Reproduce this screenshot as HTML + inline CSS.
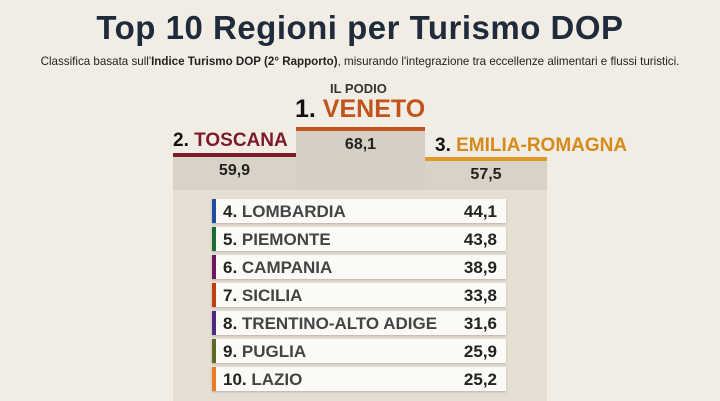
<!DOCTYPE html>
<html><head><meta charset="utf-8"><style>
body{margin:0;width:720px;height:401px;background:#f1ede4;font-family:"Liberation Sans",sans-serif;position:relative;overflow:hidden}
.a{position:absolute}
.t{left:0;width:720px;text-align:center;top:9px;font-size:33px;font-weight:bold;color:#1f2a3a;letter-spacing:0.5px}
.s{left:0;width:720px;text-align:center;top:55px;font-size:11.6px;color:#222}
.lab{font-weight:bold;white-space:nowrap}
.blk{background:#d9d2c6}
.val{font-weight:bold;font-size:16px;color:#222;text-align:center}
.row{left:212px;width:294px;height:24px;background:#fbfaf7;box-shadow:0 1px 2px rgba(0,0,0,.2)}
.row i{position:absolute;left:0;top:0;width:4px;height:24px}
.row b{position:absolute;left:11px;top:3px;font-size:17px;color:#222}
.row b span{color:#444}
.row em{position:absolute;right:9px;top:3px;font-size:17px;font-weight:bold;font-style:normal;color:#222}
</style></head><body>
<div class="a t">Top 10 Regioni per Turismo DOP</div>
<div class="a s">Classifica basata sull'<b>Indice Turismo DOP (2° Rapporto)</b>, misurando l'integrazione tra eccellenze alimentari e flussi turistici.</div>
<div class="a lab" style="left:330px;top:81px;font-size:13px;color:#333">IL PODIO</div>
<div class="a lab" style="left:295px;top:95px;font-size:25px;color:#111">1. <span style="color:#c0541c">VENETO</span></div>
<div class="a lab" style="left:173px;top:130px;font-size:19px;color:#111">2. <span style="color:#7d1a2a">TOSCANA</span></div>
<div class="a lab" style="left:435px;top:135px;font-size:19px;color:#111">3. <span style="color:#d68a1a">EMILIA-ROMAGNA</span></div>
<div class="a" style="left:173px;top:190px;width:374px;height:211px;background:#e4ded3"></div>
<div class="a blk" style="left:173px;top:153px;width:123px;height:37px;border-top:4px solid #7d1a2a;box-sizing:border-box"></div>
<div class="a blk" style="left:296px;top:127px;width:129px;height:63px;border-top:4px solid #c0541c;box-sizing:border-box;background:#d6cfc3"></div>
<div class="a blk" style="left:425px;top:157px;width:122px;height:33px;border-top:4px solid #e09a2a;box-sizing:border-box"></div>
<div class="a val" style="left:173px;top:162px;width:123px">59,9</div>
<div class="a val" style="left:296px;top:136px;width:129px">68,1</div>
<div class="a val" style="left:425px;top:166px;width:122px">57,5</div>
<div class="a row" style="top:199px"><i style="background:#1f4fa0"></i><b>4. <span>LOMBARDIA</span></b><em>44,1</em></div>
<div class="a row" style="top:227px"><i style="background:#1e6a35"></i><b>5. <span>PIEMONTE</span></b><em>43,8</em></div>
<div class="a row" style="top:255px"><i style="background:#6e1a5a"></i><b>6. <span>CAMPANIA</span></b><em>38,9</em></div>
<div class="a row" style="top:283px"><i style="background:#c23d12"></i><b>7. <span>SICILIA</span></b><em>33,8</em></div>
<div class="a row" style="top:311px"><i style="background:#4e2a85"></i><b>8. <span>TRENTINO-ALTO ADIGE</span></b><em>31,6</em></div>
<div class="a row" style="top:339px"><i style="background:#5f6a25"></i><b>9. <span>PUGLIA</span></b><em>25,9</em></div>
<div class="a row" style="top:367px"><i style="background:#ef7a25"></i><b>10. <span>LAZIO</span></b><em>25,2</em></div>
</body></html>
